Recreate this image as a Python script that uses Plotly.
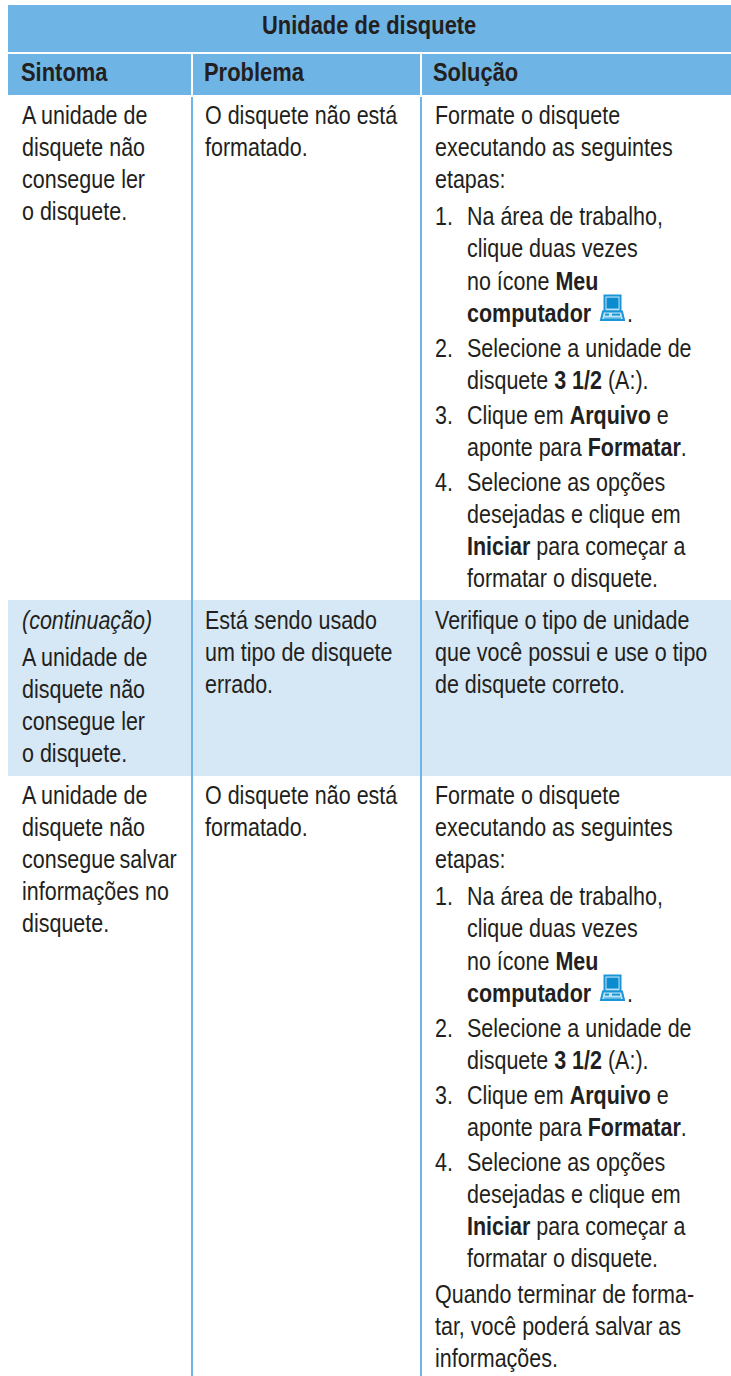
import plotly.graph_objects as go

W, H = 731, 1376
FONT = "Liberation Sans, Arial, sans-serif"
TXT = "#231f20"
BLUE = "#6eb4e4"
PALE = "#d6e8f5"

title = "Unidade de disquete"
headers = ["Sintoma", "Problema", "Solução"]

sym1 = ["A unidade de", "disquete não", "consegue ler", "o disquete."]
sym2 = ["<i>(continuação)</i>"]
sym3 = ["A unidade de", "disquete não", "consegue\u2009salvar", "informações no", "disquete."]
prob1 = ["O disquete não está", "formatado."]
prob2 = ["Está sendo usado", "um tipo de disquete", "errado."]
sol2 = ["Verifique o tipo de unidade", "que você possui e use o tipo", "de disquete correto."]
sol_intro = ["Formate o disquete", "executando as seguintes", "etapas:"]
steps = [
    ("1.", ["Na área de trabalho,", "clique duas vezes", "no ícone <b>Meu</b>", "<b>computador</b>"]),
    ("2.", ["Selecione a unidade de", "disquete <b>3 1/2</b> (A:)."]),
    ("3.", ["Clique em <b>Arquivo</b> e", "aponte para <b>Formatar</b>."]),
    ("4.", ["Selecione as opções", "desejadas e clique em", "<b>Iniciar</b> para começar a", "formatar o disquete."]),
]
sol_end = ["Quando terminar de forma-", "tar, você poderá salvar as", "informações."]

X0, X1, X2 = 8, 192, 421
LH = 32.1
GAP_INTRO = 5
GAP = 3
FS = 25
SX = 0.86

ann, shp = [], []

def rect(x0, y0, x1, y1, c, line=None):
    shp.append(dict(type="rect", x0=x0, y0=y0, x1=x1, y1=y1, fillcolor=c, layer="above" if line else "below",
                    line=dict(color=line, width=2) if line else dict(width=0)))

def text(x, y, s, size=FS, bold=False):
    ann.append(dict(x=x, y=y, text=f"<b>{s}</b>" if bold else s, showarrow=False, xanchor="left",
                    yanchor="middle", xref="x", yref="y", align="left", borderpad=0,
                    font=dict(family=FONT, size=size, color=TXT)))

def block(x, y, lines):
    for ln in lines:
        text(x, y, ln)
        y += LH
    return y

def icon(x, y):
    c = "#1a96d4"
    rect(x + 4.5, y + 1, x + 20.5, y + 17, "#bfe4f7", c)
    shp.append(dict(type="rect", x0=x + 6.5, y0=y + 3, x1=x + 18.5, y1=y + 14, fillcolor="#0b8ccf",
                    line=dict(width=0), layer="above"))
    shp.append(dict(type="path", path=f"M{x+3},{y+17} L{x+22},{y+17} L{x+24},{y+25.5} L{x+1},{y+25.5} Z",
                    fillcolor="#bfe4f7", line=dict(color=c, width=2), layer="above"))
    shp.append(dict(type="rect", x0=x + 5, y0=y + 19, x1=x + 9, y1=y + 21, fillcolor=c, line=dict(width=0), layer="above"))
    shp.append(dict(type="rect", x0=x + 12, y0=y + 19, x1=x + 20, y1=y + 21, fillcolor=c, line=dict(width=0), layer="above"))
    shp.append(dict(type="rect", x0=x + 4, y0=y + 23, x1=x + 21, y1=y + 24, fillcolor=c, line=dict(width=0), layer="above"))

# bands
rect(X0, 5, W, 52, BLUE)
rect(X0, 54, W, 95, BLUE)
rect(X1 - 1, 52, X1 + 1, 95, "white")
rect(X2 - 1, 52, X2 + 1, 95, "white")
rect(X0, 600, W, 776, PALE)
for x in (X1, X2):
    shp.append(dict(type="line", x0=x, x1=x, y0=97, y1=H, line=dict(color=BLUE, width=2), layer="above"))

text(261, 25, title, size=25.5, bold=True)
for x, h in zip((20, 203, 432), headers):
    text(x, 72, h, size=25.5, bold=True)

XA, XB, XC, XN = 21, 204, 434, 466

def solution(y):
    y = block(XC, y, sol_intro) + GAP_INTRO
    for num, lines in steps:
        text(XC, y, num)
        if num == "1.":
            icon_y = y + 3 * LH - 18
        y = block(XN, y, lines) + GAP
    return y - GAP, icon_y

# row 1
y0 = 115
block(XA, y0, sym1)
block(XB, y0, prob1)
_, iy = solution(y0)
icon(600, iy)
text(626, iy + 18, ".")

# row 2
y0 = 620
text(XA, y0, sym2[0])
block(XA, y0 + LH + GAP_INTRO, sym1)
block(XB, y0, prob2)
block(XC, y0, sol2)

# row 3
y0 = 795
block(XA, y0, sym3)
block(XB, y0, prob1)
y, iy = solution(y0)
icon(600, iy)
text(626, iy + 18, ".")
block(XC, y + GAP, sol_end)

fig = go.Figure()
fig.update_layout(
    width=W, height=H, margin=dict(l=0, r=0, t=0, b=0),
    paper_bgcolor="white", plot_bgcolor="white", showlegend=False,
    xaxis=dict(range=[0, W], visible=False, fixedrange=True),
    yaxis=dict(range=[H, 0], visible=False, fixedrange=True),
    annotations=ann, shapes=shp,
)
post = """
document.documentElement.style.margin='0';document.body.style.margin='0';document.body.style.overflow='hidden';
function squeeze(){document.querySelectorAll('.annotation-text').forEach(function(t){
  t.removeAttribute('transform');
  var a=t.getBBox().x;
  t.setAttribute('transform','translate('+a+',0) scale(%s,1) translate('+(-a)+',0)');
});}
squeeze();setTimeout(squeeze,50);setTimeout(squeeze,300);
""" % SX
fig.write_html("out.html", config=dict(displayModeBar=False), post_script=post)
